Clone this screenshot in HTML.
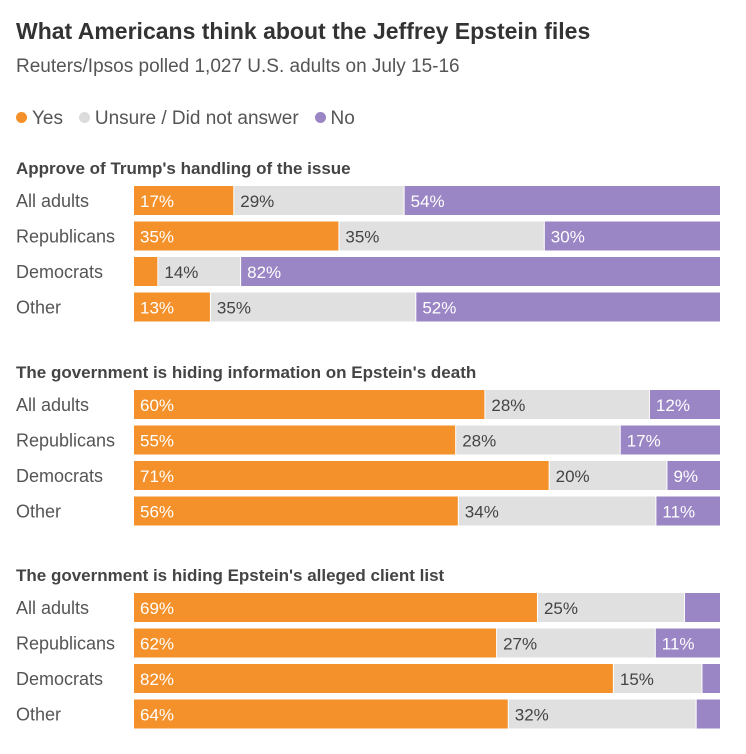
<!DOCTYPE html>
<html><head><meta charset="utf-8">
<style>
body{margin:0;background:#fff;font-family:"Liberation Sans",sans-serif;}
#wrap{position:relative;width:746px;height:754px;overflow:hidden;}
.t{position:absolute;white-space:nowrap;}
.dot{display:inline-block;width:11px;height:11px;border-radius:50%;margin-right:5px;vertical-align:1px;}
</style></head>
<body>
<div id="wrap">
<div class="t" style="left:16px;top:18px;font-size:23px;font-weight:bold;color:#333;">What Americans think about the Jeffrey Epstein files</div>
<div class="t" style="left:16px;top:56px;font-size:19px;color:#555;">Reuters/Ipsos polled 1,027 U.S. adults on July 15-16</div>
<div class="t" style="left:16px;top:108px;font-size:19px;color:#555;">
<span><span class="dot" style="background:#f5912a"></span>Yes</span>&nbsp;&nbsp;
<span><span class="dot" style="background:#dcdcdc"></span>Unsure / Did not answer</span>&nbsp;&nbsp;
<span><span class="dot" style="background:#9a85c5"></span>No</span>
</div>
<svg id="svg" width="746" height="754" style="position:absolute;left:0;top:0"></svg>
</div>
<script>
const sections=["Approve of Trump's handling of the issue","The government is hiding information on Epstein's death","The government is hiding Epstein's alleged client list"];
const groups=["All adults","Republicans","Democrats","Other"];
const yesVals=[[17,35,4,13],[60,55,71,56],[69,62,82,64]];
const unsureVals=[[29,35,14,35],[28,28,20,34],[25,27,15,32]];
const noVals=[[54,30,82,52],[12,17,9,11],[6,11,3,4]];
const showYes=[[true,true,false,true],[true,true,true,true],[true,true,true,true]];
const showNo=[[true,true,true,true],[true,true,true,true],[false,true,false,false]];

const svg=document.getElementById('svg');
const NS='http://www.w3.org/2000/svg';
const x0=134,W=586;
const secTop=[155,359,562],rowH=29,pitch=35.5,firstRow=31;
function el(tag,attrs){const e=document.createElementNS(NS,tag);for(const k in attrs)e.setAttribute(k,attrs[k]);svg.appendChild(e);return e;}
sections.forEach((s,si)=>{
  const t=el('text',{x:16,y:secTop[si]+19,'font-size':17,'font-weight':'bold',fill:'#444'});
  t.textContent=s;
  
  
  groups.forEach((g,gi)=>{
    const y=secTop[si]+firstRow+gi*pitch;
    const lb=el('text',{x:16,y:y+21,'font-size':18,fill:'#555'});
    lb.textContent=g;
    
    
    const vals=[yesVals[si][gi],unsureVals[si][gi],noVals[si][gi]];
    const total=vals[0]+vals[1]+vals[2];
    const sx=v=>v/total*(W-2);
    const cols=['#f5912a','#e0e0e0','#9a85c5'];
    const tc=['#fff','#444','#fff'];
    const show=[showYes[si][gi],true,showNo[si][gi]];
    const names=['bar-yes','bar-unsure','bar-no'];
    let x=x0;
    vals.forEach((v,k)=>{
      const w=sx(v);
      const r=el('rect',{x:x,y:y,width:w,height:rowH,fill:cols[k]});
      
      
      if(show[k]){
        const tx=el('text',{x:x+6,y:y+21,'font-size':17,fill:tc[k]});
        tx.textContent=v+'%';
        
        
      }
      x+=w+1;
    });
  });
});
</script>
</body></html>
